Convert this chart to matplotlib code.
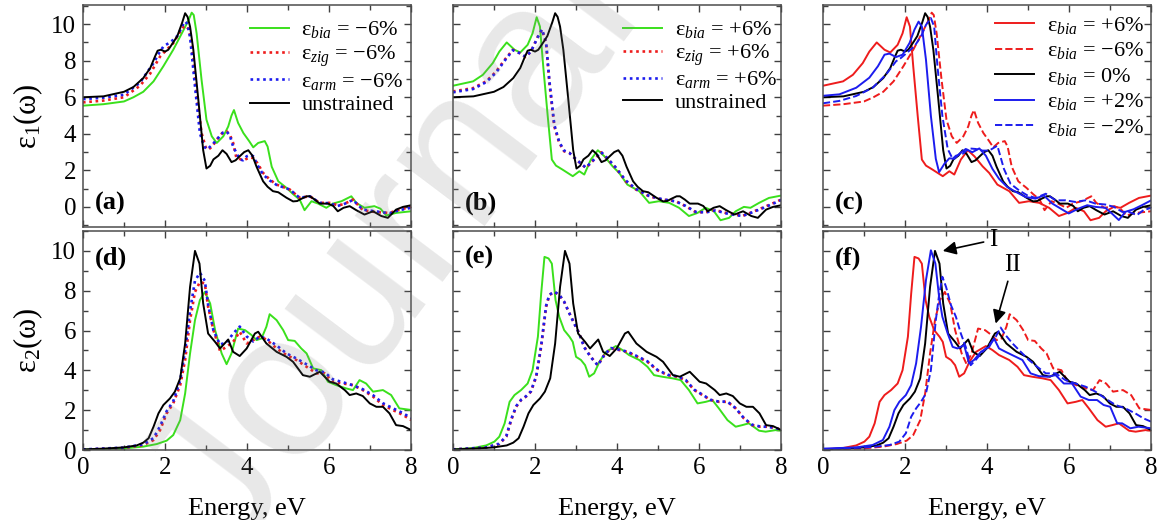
import numpy as np
import matplotlib
matplotlib.use("Agg")
import matplotlib.pyplot as plt
from matplotlib.ticker import MultipleLocator

plt.rcParams['font.family'] = ['Liberation Serif', 'DejaVu Serif']
plt.rcParams['mathtext.fontset'] = 'custom'
plt.rcParams['mathtext.rm'] = 'Liberation Serif'
plt.rcParams['mathtext.it'] = 'Liberation Serif:italic'
plt.rcParams['mathtext.bf'] = 'Liberation Serif:bold'

# ---------------- eps1 (real part) ----------------
e1_unstr_x = [0, 0.5, 0.8, 1.0, 1.23, 1.47, 1.64, 1.75, 1.82, 1.9, 2.0, 2.08, 2.2, 2.3, 2.42, 2.49,
              2.55, 2.61, 2.69, 2.81, 2.93, 3.01, 3.1, 3.18, 3.3, 3.4, 3.5, 3.62, 3.72, 3.82, 3.93,
              4.03, 4.13, 4.23, 4.39, 4.5, 4.63, 4.76, 4.96, 5.12, 5.22, 5.32, 5.45, 5.53, 5.65,
              5.77, 5.97, 6.1, 6.21, 6.35, 6.5, 6.66, 6.86, 7.07, 7.27, 7.43, 7.63, 7.8, 8.0]
e1_unstr = [6.0, 6.05, 6.2, 6.3, 6.56, 7.05, 7.6, 8.2, 8.55, 8.6, 8.5, 8.6, 9.0, 9.35, 10.1, 10.6,
            10.4, 9.87, 8.6, 5.9, 3.1, 2.1, 2.25, 2.6, 2.8, 3.1, 2.9, 2.45, 2.55, 2.77, 3.0,
            3.1, 2.8, 2.2, 1.4, 1.1, 0.86, 0.8, 0.5, 0.3, 0.32, 0.44, 0.58, 0.58, 0.4,
            0.18, 0.18, 0.05, -0.24, -0.05, 0.04, -0.18, -0.42, -0.24, -0.5, -0.6, -0.15, 0.0, 0.09]

e1_bia_m6_x = [0, 0.5, 1.0, 1.23, 1.47, 1.72, 1.96, 2.2, 2.41, 2.57, 2.65, 2.7, 2.77, 2.89, 3.01,
               3.14, 3.26, 3.42, 3.54, 3.62, 3.68, 3.78, 3.91, 4.05, 4.15, 4.27, 4.43, 4.5, 4.6,
               4.76, 4.96, 5.12, 5.28, 5.4, 5.57, 5.73, 5.93, 6.09, 6.3, 6.54, 6.66, 6.86, 7.1,
               7.25, 7.39, 7.63, 8.0]
e1_bia_m6 = [5.54, 5.62, 5.77, 6.0, 6.3, 6.87, 7.7, 8.6, 9.5, 10.2, 10.63, 10.5, 9.5, 6.96, 4.77,
             3.86, 3.5, 3.86, 4.4, 5.0, 5.3, 4.6, 4.04, 3.6, 3.26, 3.5, 3.6, 3.3, 2.2,
             1.4, 1.04, 0.7, 0.4, -0.18, 0.31, 0.18, -0.05, 0.18, 0.31, 0.58, 0.22, -0.05, 0.04,
             -0.1, -0.47, -0.33, -0.24]

e1_zig_m6_x = [0, 0.5, 1.0, 1.39, 1.64, 1.88, 2.04, 2.2, 2.37, 2.45, 2.52, 2.58, 2.65, 2.77, 2.89,
               3.0, 3.05, 3.15, 3.26, 3.4, 3.5, 3.58, 3.66, 3.74, 3.85, 3.95, 4.05, 4.15, 4.25,
               4.39, 4.55, 4.72, 5.04, 5.28, 5.53, 5.77, 6.01, 6.2, 6.34, 6.58, 6.82, 7.15, 7.47,
               7.71, 8.0]
e1_zig_m6 = [5.72, 5.82, 6.0, 6.63, 7.3, 8.23, 8.6, 8.96, 9.6, 9.85, 9.9, 9.7, 8.96, 6.2, 4.04,
             3.2, 3.13, 3.3, 3.68, 4.05, 4.13, 3.95, 3.5, 2.68, 2.6, 2.59, 2.7, 2.68, 2.4,
             1.86, 1.5, 1.22, 0.95, 0.5, 0.58, 0.22, 0.22, 0.1, 0.13, 0.4, -0.18, -0.29, -0.33,
             -0.15, 0.0]

e1_arm_m6_x = [0, 0.5, 1.0, 1.39, 1.72, 1.85, 1.96, 2.08, 2.2, 2.32, 2.41, 2.49, 2.55, 2.61, 2.73,
               2.85, 2.95, 3.03, 3.15, 3.26, 3.4, 3.5, 3.58, 3.66, 3.82, 3.9, 3.99, 4.08, 4.15,
               4.25, 4.39, 4.55, 4.72, 5.04, 5.28, 5.53, 5.77, 6.01, 6.2, 6.34, 6.58, 6.82, 7.15,
               7.47, 7.71, 8.0]
e1_arm_m6 = [5.9, 5.98, 6.14, 6.8, 7.87, 8.4, 8.78, 8.95, 9.14, 9.4, 9.87, 10.15, 10.0, 9.3, 6.6,
             4.04, 3.3, 3.15, 3.4, 3.68, 4.05, 4.13, 3.9, 3.3, 2.6, 2.55, 2.77, 2.85, 2.77,
             2.3, 1.77, 1.45, 1.2, 0.95, 0.5, 0.58, 0.22, 0.2, 0.05, 0.13, 0.38, -0.15, -0.25,
             -0.35, -0.18, -0.05]

e1_bia_p6_x = [0, 0.49, 0.73, 0.97, 1.13, 1.31, 1.5, 1.64, 1.82, 1.94, 2.04, 2.12, 2.2, 2.31, 2.41,
               2.51, 2.67, 2.92, 3.08, 3.2, 3.36, 3.53, 3.69, 3.89, 4.05, 4.25, 4.54, 4.78, 5.02,
               5.27, 5.51, 5.75, 5.96, 6.16, 6.36, 6.52, 6.73, 6.89, 7.09, 7.25, 7.46, 7.7, 8.0]
e1_bia_p6 = [6.63, 6.87, 7.23, 7.87, 8.5, 9.0, 8.6, 8.45, 8.87, 9.5, 10.38, 9.87, 7.69, 4.95, 2.59,
             2.26, 2.04, 1.68, 1.95, 1.77, 2.59, 3.1, 2.77, 2.22, 1.86, 1.22, 0.86, 0.22, 0.31,
             0.22, -0.05, -0.5, -0.33, -0.05, -0.24, -0.73, -0.6, -0.24, 0.0, -0.05, 0.22, 0.49, 0.62]

e1_zig_p6_x = [0, 0.49, 0.81, 1.05, 1.26, 1.46, 1.62, 1.77, 1.9, 2.07, 2.17, 2.27, 2.35, 2.47, 2.59,
               2.71, 2.84, 3.0, 3.24, 3.44, 3.61, 3.77, 3.97, 4.21, 4.46, 4.78, 5.1, 5.43, 5.67,
               5.92, 6.16, 6.4, 6.65, 6.89, 7.05, 7.29, 7.54, 7.78, 8.0]
e1_zig_p6 = [6.32, 6.5, 6.87, 7.4, 8.05, 8.6, 8.42, 8.2, 8.5, 9.32, 9.7, 8.96, 6.78, 4.4, 3.5,
             3.04, 2.95, 2.59, 2.13, 2.59, 2.99, 2.62, 2.13, 1.4, 0.95, 0.58, 0.4, 0.31, 0.04,
             -0.29, -0.29, -0.18, -0.33, -0.42, -0.5, -0.29, -0.05, 0.18, 0.4]
e1_arm_p6 = [6.27, 6.45, 6.83, 7.35, 8.0, 8.58, 8.42, 8.22, 8.5, 9.3, 9.72, 9.0, 6.9, 4.5, 3.55,
             3.08, 2.95, 2.6, 2.15, 2.6, 3.0, 2.65, 2.15, 1.45, 0.98, 0.6, 0.42, 0.3, 0.05,
             -0.28, -0.3, -0.2, -0.35, -0.45, -0.5, -0.3, -0.08, 0.15, 0.38]

e1_bia_p2_x = [0, 0.4, 0.81, 1.13, 1.34, 1.5, 1.62, 1.78, 1.94, 2.11, 2.23, 2.33, 2.41, 2.51, 2.63,
               2.75, 2.83, 2.96, 3.08, 3.2, 3.32, 3.48, 3.64, 3.81, 3.97, 4.13, 4.29, 4.49, 4.7,
               4.94, 5.18, 5.38, 5.59, 5.79, 5.99, 6.23, 6.44, 6.64, 6.88, 7.04, 7.21, 7.37, 7.57,
               7.77, 8.0]
e1_bia_p2 = [6.08, 6.16, 6.52, 7.07, 7.7, 8.33, 8.39, 8.2, 8.33, 8.97, 9.7, 10.14, 9.87, 8.06, 4.98,
             2.63, 1.9, 2.36, 2.66, 2.63, 2.9, 3.17, 2.99, 3.2, 2.8, 2.08, 1.54, 1.09, 0.82,
             0.54, 0.45, 0.63, 0.18, -0.09, -0.36, -0.09, 0.09, 0.0, -0.05, -0.36, -0.72, -0.27, -0.13,
             0.09, 0.36]

e1_bia_m2_x = [0, 0.4, 0.81, 1.21, 1.54, 1.78, 1.9, 2.06, 2.23, 2.39, 2.51, 2.63, 2.71, 2.79, 2.91,
               3.04, 3.16, 3.24, 3.4, 3.56, 3.72, 3.89, 4.05, 4.25, 4.41, 4.57, 4.78, 4.98, 5.18,
               5.43, 5.67, 5.91, 6.15, 6.4, 6.64, 6.88, 7.09, 7.29, 7.45, 7.65, 7.81, 8.0]
e1_bia_m2 = [5.67, 5.8, 6.07, 6.52, 7.25, 7.97, 8.15, 8.46, 8.79, 9.33, 9.96, 10.33, 9.87, 7.7, 4.98,
             3.17, 2.63, 2.8, 2.9, 3.2, 3.17, 3.08, 3.08, 3.35, 2.08, 1.27, 0.9, 0.63, 0.49,
             0.72, 0.36, 0.36, 0.27, 0.36, 0.18, 0.13, 0.0, -0.27, -0.27, -0.45, -0.18, -0.05]

# ---------------- eps2 (imaginary part) ----------------
e2_unstr_x = [0, 0.5, 0.99, 1.31, 1.47, 1.6, 1.72, 1.84, 1.96, 2.12, 2.24, 2.37, 2.49, 2.61, 2.73,
              2.84, 2.93, 3.05, 3.22, 3.34, 3.54, 3.66, 3.82, 3.99, 4.19, 4.27, 4.47, 4.72, 4.96,
              5.12, 5.36, 5.53, 5.77, 6.01, 6.17, 6.38, 6.5, 6.66, 6.82, 6.99, 7.15, 7.31, 7.47,
              7.63, 7.8, 8.0]
e2_unstr = [0.03, 0.07, 0.13, 0.23, 0.37, 0.59, 1.17, 1.84, 2.26, 2.59, 2.93, 3.6, 5.35, 8.19, 10.0,
            9.36, 7.36, 5.85, 5.43, 5.1, 5.55, 4.93, 4.72, 5.1, 5.85, 5.94, 5.35, 4.93, 4.68,
            4.43, 3.76, 3.68, 3.93, 3.43, 3.34, 3.01, 2.76, 2.84, 2.71, 2.34, 2.17, 2.17, 1.84,
            1.25, 1.2, 1.0]

e2_bia_m6_x = [0, 0.99, 1.47, 1.8, 2.04, 2.2, 2.37, 2.49, 2.61, 2.73, 2.85, 2.97, 3.1, 3.22, 3.38,
               3.5, 3.62, 3.78, 3.95, 4.11, 4.23, 4.35, 4.47, 4.55, 4.72, 4.88, 5.0, 5.16, 5.32,
               5.45, 5.61, 5.81, 5.97, 6.17, 6.42, 6.58, 6.74, 6.9, 7.07, 7.31, 7.51, 7.71, 8.0]
e2_bia_m6 = [0.02, 0.08, 0.17, 0.3, 0.47, 0.75, 1.5, 2.84, 4.85, 6.52, 7.53, 7.94, 7.36, 6.02, 4.85,
             4.31, 4.85, 6.1, 6.02, 5.77, 5.52, 5.6, 6.19, 6.82, 6.52, 6.02, 5.52, 5.48, 5.1,
             4.85, 4.1, 4.01, 3.43, 3.26, 3.09, 3.01, 3.51, 3.34, 2.93, 3.01, 2.76, 2.09, 2.01]

e2_zig_m6_x = [0, 0.99, 1.47, 1.72, 1.88, 2.04, 2.2, 2.37, 2.49, 2.61, 2.73, 2.85, 2.97, 3.05, 3.18,
               3.34, 3.5, 3.66, 3.82, 3.99, 4.15, 4.31, 4.47, 4.72, 4.96, 5.2, 5.45, 5.69, 5.89,
               6.09, 6.34, 6.58, 6.82, 7.07, 7.31, 7.55, 7.8, 8.0]
e2_zig_m6 = [0.02, 0.1, 0.25, 0.5, 1.0, 1.84, 2.34, 3.26, 4.52, 6.52, 7.94, 8.44, 8.36, 7.19, 6.02,
             4.98, 5.18, 5.43, 5.94, 5.35, 5.52, 5.69, 5.55, 5.1, 4.77, 4.52, 4.18, 3.85, 3.85,
             3.43, 3.34, 3.26, 3.01, 2.68, 2.26, 2.01, 1.76, 1.5]
e2_arm_m6 = [0.03, 0.12, 0.28, 0.6, 1.2, 1.95, 2.45, 3.5, 5.0, 7.0, 8.5, 8.9, 8.5, 7.3, 6.0,
             5.3, 5.4, 5.85, 6.2, 5.7, 5.45, 5.7, 5.6, 5.25, 4.85, 4.6, 4.3, 4.0, 3.9,
             3.55, 3.4, 3.25, 3.05, 2.75, 2.35, 2.1, 1.85, 1.6]

e2_bia_p6_x = [0, 0.49, 0.81, 1.01, 1.13, 1.26, 1.38, 1.5, 1.66, 1.82, 1.94, 2.07, 2.15, 2.23, 2.33,
               2.41, 2.5, 2.59, 2.71, 2.84, 2.92, 3.0, 3.12, 3.22, 3.32, 3.44, 3.57, 3.73, 3.97,
               4.13, 4.29, 4.54, 4.74, 4.9, 5.1, 5.35, 5.55, 5.75, 5.96, 6.16, 6.32, 6.48, 6.69,
               6.89, 7.05, 7.21, 7.46, 7.62, 7.86, 8.0]
e2_bia_p6 = [0.03, 0.1, 0.23, 0.42, 0.67, 1.34, 2.42, 2.76, 3.01, 3.34, 4.01, 5.69, 7.86, 9.7, 9.62,
             9.36, 7.53, 6.69, 6.02, 5.69, 5.43, 4.68, 4.52, 4.26, 3.68, 3.85, 4.43, 4.93, 5.22,
             5.02, 4.77, 4.52, 4.18, 3.76, 3.68, 3.6, 3.51, 3.01, 2.34, 2.42, 2.51, 2.09, 1.5,
             1.17, 1.25, 1.34, 0.97, 0.92, 1.0, 0.97]

e2_zig_p6_x = [0, 0.81, 1.13, 1.3, 1.42, 1.54, 1.66, 1.78, 1.9, 2.03, 2.15, 2.27, 2.35, 2.47, 2.59,
               2.71, 2.84, 2.96, 3.08, 3.2, 3.36, 3.53, 3.69, 3.85, 4.05, 4.25, 4.5, 4.74, 4.98,
               5.23, 5.47, 5.67, 5.88, 6.08, 6.28, 6.48, 6.69, 6.89, 7.09, 7.29, 7.49, 7.7, 7.9, 8.0]
e2_zig_p6 = [0.03, 0.12, 0.3, 0.67, 1.5, 2.17, 2.51, 2.68, 2.93, 3.68, 5.18, 7.19, 7.78, 7.94, 7.78,
             7.44, 6.86, 6.35, 5.85, 5.18, 4.68, 4.26, 4.77, 5.1, 5.02, 4.93, 4.68, 4.43, 4.01,
             3.76, 3.68, 3.51, 3.01, 2.76, 2.51, 2.42, 2.42, 2.09, 1.59, 1.25, 1.17, 1.17, 1.09, 1.0]
e2_arm_p6 = [0.03, 0.13, 0.32, 0.7, 1.55, 2.2, 2.52, 2.7, 2.95, 3.72, 5.25, 7.25, 7.8, 7.95, 7.8,
             7.45, 6.85, 6.33, 5.83, 5.15, 4.66, 4.25, 4.78, 5.12, 5.04, 4.94, 4.7, 4.45, 4.03,
             3.78, 3.7, 3.52, 3.03, 2.78, 2.52, 2.43, 2.43, 2.1, 1.6, 1.27, 1.18, 1.16, 1.08, 1.0]

e2_bia_p2_x = [0, 0.81, 1.21, 1.46, 1.62, 1.74, 1.86, 2.02, 2.15, 2.27, 2.39, 2.51, 2.63, 2.74, 2.83,
               2.91, 3.04, 3.16, 3.28, 3.44, 3.56, 3.68, 3.85, 4.05, 4.17, 4.29, 4.45, 4.7, 4.86,
               5.06, 5.26, 5.47, 5.67, 5.87, 6.07, 6.28, 6.48, 6.68, 6.84, 7.0, 7.17, 7.29, 7.49,
               7.69, 8.0]
e2_bia_p2 = [0.07, 0.13, 0.25, 0.5, 1.17, 2.0, 2.42, 2.76, 3.26, 4.35, 6.19, 8.53, 10.03, 9.36, 7.69,
             6.69, 5.85, 5.18, 5.1, 5.27, 4.35, 4.52, 4.93, 5.18, 5.6, 5.1, 4.93, 4.68, 4.52,
             3.85, 3.71, 3.68, 3.76, 3.34, 3.34, 2.68, 2.51, 2.51, 2.26, 2.17, 1.34, 1.34, 1.09,
             1.17, 1.09]

e2_bia_m2_x = [0, 1.21, 1.62, 1.86, 2.02, 2.15, 2.27, 2.39, 2.51, 2.63, 2.75, 2.83, 2.91, 3.0, 3.12,
               3.24, 3.36, 3.48, 3.6, 3.72, 3.89, 4.05, 4.21, 4.33, 4.45, 4.62, 4.82, 5.02, 5.22,
               5.43, 5.67, 5.91, 6.15, 6.4, 6.64, 6.88, 7.13, 7.37, 7.61, 7.81, 8.0]
e2_bia_m2 = [0.03, 0.15, 0.25, 0.42, 0.84, 1.67, 2.09, 2.42, 2.84, 4.01, 6.52, 7.78, 8.7, 8.19, 7.27,
             6.69, 5.85, 5.18, 4.26, 4.52, 4.93, 5.27, 5.69, 6.15, 5.77, 5.35, 4.93, 4.52, 4.18,
             3.85, 3.85, 3.51, 3.34, 3.18, 2.93, 2.59, 2.26, 2.09, 1.84, 1.59, 1.42]

GREEN = '#3ae01c'
RED = '#ee1c1c'
BLUE = '#1c1cee'
LW = 1.4
DOT = dict(ls=(0, (1, 1.4)), lw=1.9)

fig = plt.figure(figsize=(11.65, 5.2), dpi=100)
lefts = [0.0712, 0.3888, 0.7064]
width = 0.2818
axs_top = [fig.add_axes([l, 0.5635, width, 0.4269]) for l in lefts]
axs_bot = [fig.add_axes([l, 0.1346, width, 0.4212]) for l in lefts]

leg_kw = dict(frameon=False, fontsize=16, handlelength=1.75, handletextpad=0.55,
              borderaxespad=0.0, borderpad=0.2)

# (a)
ax = axs_top[0]
ax.plot(e1_bia_m6_x, e1_bia_m6, color=GREEN, lw=LW, label='ε$_{bia}$ = −6%')
ax.plot(e1_zig_m6_x, e1_zig_m6, color=RED, label='ε$_{zig}$ = −6%', **DOT)
ax.plot(e1_arm_m6_x, e1_arm_m6, color=BLUE, label='ε$_{arm}$ = −6%', **DOT)
ax.plot(e1_unstr_x, e1_unstr, color='k', lw=LW, label='unstrained')
ax.legend(loc='upper right', bbox_to_anchor=(0.99, 0.955), labelspacing=0.12, **leg_kw)

# (b)
ax = axs_top[1]
ax.plot(e1_bia_p6_x, e1_bia_p6, color=GREEN, lw=LW, label='ε$_{bia}$ = +6%')
ax.plot(e1_zig_p6_x, e1_zig_p6, color=RED, label='ε$_{zig}$ = +6%', **DOT)
ax.plot(e1_zig_p6_x, e1_arm_p6, color=BLUE, label='ε$_{arm}$ = +6%', **DOT)
ax.plot(e1_unstr_x, e1_unstr, color='k', lw=LW, label='unstrained')
ax.legend(loc='upper right', bbox_to_anchor=(1.0, 0.955), labelspacing=0.08, **leg_kw)

# (c)
ax = axs_top[2]
ax.plot(e1_bia_p6_x, e1_bia_p6, color=RED, lw=LW, label='ε$_{bia}$ = +6%')
ax.plot(e1_bia_m6_x, e1_bia_m6, color=RED, lw=LW, ls='--', label='ε$_{bia}$ = −6%')
ax.plot(e1_unstr_x, e1_unstr, color='k', lw=LW, label='ε$_{bia}$ = 0%')
ax.plot(e1_bia_p2_x, e1_bia_p2, color=BLUE, lw=LW, label='ε$_{bia}$ = +2%')
ax.plot(e1_bia_m2_x, e1_bia_m2, color=BLUE, lw=LW, ls='--', label='ε$_{bia}$ = −2%')
ax.legend(loc='upper right', bbox_to_anchor=(0.99, 0.975), labelspacing=0.2, **leg_kw)

# (d)
ax = axs_bot[0]
ax.plot(e2_bia_m6_x, e2_bia_m6, color=GREEN, lw=LW)
ax.plot(e2_zig_m6_x, e2_zig_m6, color=RED, **DOT)
ax.plot(e2_zig_m6_x, e2_arm_m6, color=BLUE, **DOT)
ax.plot(e2_unstr_x, e2_unstr, color='k', lw=LW)

# (e)
ax = axs_bot[1]
ax.plot(e2_bia_p6_x, e2_bia_p6, color=GREEN, lw=LW)
ax.plot(e2_zig_p6_x, e2_zig_p6, color=RED, **DOT)
ax.plot(e2_zig_p6_x, e2_arm_p6, color=BLUE, **DOT)
ax.plot(e2_unstr_x, e2_unstr, color='k', lw=LW)

# (f)
ax = axs_bot[2]
ax.plot(e2_bia_p6_x, e2_bia_p6, color=RED, lw=LW)
ax.plot(e2_bia_m6_x, e2_bia_m6, color=RED, lw=LW, ls='--')
ax.plot(e2_unstr_x, e2_unstr, color='k', lw=LW)
ax.plot(e2_bia_p2_x, e2_bia_p2, color=BLUE, lw=LW)
ax.plot(e2_bia_m2_x, e2_bia_m2, color=BLUE, lw=LW, ls='--')
arrow = dict(arrowstyle='-|>', color='k', lw=1.2, mutation_scale=20, shrinkA=2, shrinkB=0)
ax.annotate('I', xy=(2.92, 10.0), xytext=(4.05, 10.55), fontsize=18, ha='left', va='center',
            arrowprops=arrow)
ax.annotate('II', xy=(4.21, 6.35), xytext=(4.62, 9.3), fontsize=18, ha='center', va='center',
            arrowprops=arrow)

for ax in axs_top + axs_bot:
    ax.set_xlim(0, 8)
    ax.xaxis.set_major_locator(MultipleLocator(2))
    ax.xaxis.set_minor_locator(MultipleLocator(1))
    ax.yaxis.set_major_locator(MultipleLocator(2))
    ax.yaxis.set_minor_locator(MultipleLocator(1))
    ax.tick_params(which='both', direction='in', top=True, right=True, labelsize=18,
                   color='0.25', width=1.0, pad=5)
    ax.tick_params(which='major', length=5)
    ax.tick_params(which='minor', length=3.5)
    for s in ax.spines.values():
        s.set_color('0.3')
        s.set_linewidth(1.1)

for i, ax in enumerate(axs_top):
    ax.set_ylim(-1.1, 11.05)
    ax.set_xticklabels([])
    ax.text(0.035, 0.108, '(' + 'abc'[i] + ')', transform=ax.transAxes, fontsize=19,
            fontweight='bold', va='center', ha='left')
    if i > 0:
        ax.set_yticklabels([])
for i, ax in enumerate(axs_bot):
    ax.set_ylim(0, 11)
    ax.set_xlabel('Energy, eV', fontsize=19, labelpad=14)
    ax.text(0.035, 0.877, '(' + 'def'[i] + ')', transform=ax.transAxes, fontsize=19,
            fontweight='bold', va='center', ha='left')
    if i > 0:
        ax.set_yticklabels([])

axs_top[0].set_ylabel('ε$_1$(ω)', fontsize=22, labelpad=4)
axs_bot[0].set_ylabel('ε$_2$(ω)', fontsize=22, labelpad=4)

# faint watermark of the journal
fig.text(0.2, -0.08, 'Journal Pre-proof', rotation=53, rotation_mode='anchor',
         fontsize=150, color='0.5', alpha=0.18, family='Liberation Sans',
         ha='left', va='baseline', zorder=20)

fig.savefig('out.png', dpi=100)
